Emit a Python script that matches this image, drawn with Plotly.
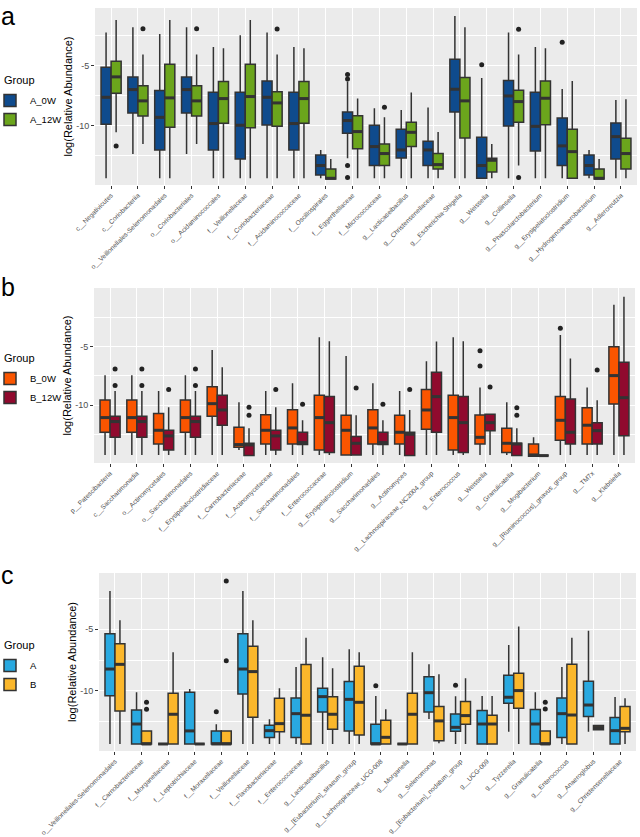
import plotly.graph_objects as go

# ---------------- Panel a ----------------
cats_a = ["c__Negativicutes", "c__Coriobacteriia", "o__Veillonellales-Selenomonadales",
          "o__Coriobacteriales", "o__Acidaminococcales", "f__Veillonellaceae",
          "f__Coriobacteriaceae", "f__Acidaminococcaceae", "f__Oscillospirales",
          "f__Eggerthellaceae", "f__Micrococcaceae", "g__Lacticaseibacillus",
          "g__Christensenellaceae", "g__Escherichia-Shigella", "g__Weissella",
          "g__Collinsella", "g__Phascolarctobacterium", "g__Erysipelatoclostridium",
          "g__Hydrogenoanaerobacterium", "g__Adlercreutzia"]

a0_lo = [-14.39, -12.36, -14.39, -12.36, -14.39, -14.39, -14.39, -14.39, -14.39, -12.72,
         -14.39, -14.39, -14.39, -14.39, -14.39, -14.39, -14.39, -14.39, -14.39, -14.39]
a0_q1 = [-9.89, -8.94, -12.03, -8.94, -12.03, -12.78, -9.94, -12.03, -14.11, -10.64,
         -13.33, -12.69, -13.33, -8.86, -14.39, -10.03, -12.11, -13.33, -14.11, -12.78]
a0_med = [-7.64, -7.0, -9.31, -7.0, -9.83, -9.97, -7.64, -9.83, -13.33, -9.58,
          -11.75, -12.03, -12.03, -6.97, -13.33, -7.53, -10.06, -11.69, -13.33, -10.92]
a0_q3 = [-5.14, -5.94, -7.08, -5.94, -7.22, -7.22, -6.28, -7.22, -12.44, -8.86,
         -9.97, -10.31, -11.31, -4.47, -10.97, -6.25, -7.22, -9.36, -12.44, -9.78]
a0_hi = [-2.25, -1.81, -2.36, -1.81, -3.44, -2.47, -2.25, -3.44, -12.03, -6.33,
         -8.56, -8.69, -8.5, -0.86, -6.03, -2.25, -3.44, -6.94, -12.03, -7.86]
a0_out_cat = [10, 10, 10, 10, 15, 18]
a0_out_val = [-5.75, -6.11, -13.33, -14.33, -4.92, -3.06]

a12_lo = [-10.56, -11.53, -14.39, -11.53, -14.39, -14.39, -14.39, -14.39, -14.44, -14.39,
          -14.39, -14.39, -14.39, -14.39, -14.39, -13.33, -14.39, -14.39, -14.44, -14.39]
a12_q1 = [-7.31, -9.19, -10.14, -9.19, -9.81, -10.17, -10.06, -9.81, -14.44, -11.92,
          -13.33, -11.75, -13.61, -11.03, -13.86, -9.72, -9.92, -14.39, -14.44, -13.61]
a12_med = [-5.94, -7.94, -7.69, -7.94, -7.75, -7.58, -8.11, -7.75, -14.39, -10.5,
           -12.33, -10.56, -13.25, -7.94, -12.89, -8.0, -7.72, -12.17, -14.39, -12.33]
a12_q3 = [-4.64, -6.67, -4.89, -6.67, -6.33, -4.89, -7.17, -6.33, -13.61, -9.17,
          -11.53, -9.72, -12.33, -6.0, -12.72, -7.06, -6.28, -10.31, -13.61, -11.06]
a12_hi = [-1.19, -4.08, -1.19, -4.08, -3.56, -1.19, -4.08, -3.56, -12.78, -7.75,
          -9.31, -7.25, -10.53, -1.81, -11.53, -4.08, -3.56, -6.28, -12.78, -7.81]
a12_out_cat = [1, 2, 4, 7, 11, 16, 16]
a12_out_val = [-11.69, -1.92, -1.92, -1.94, -8.47, -1.97, -14.33]

# ---------------- Panel b ----------------
cats_b = ["p__Patescibacteria", "c__Saccharimonadia", "o__Actinomycetales",
          "o__Saccharimonadales", "f__Erysipelatoclostridiaceae", "f__Carnobacteriaceae",
          "f__Actinomycetaceae", "f__Saccharimonadales", "f__Enterococcaceae",
          "g__Erysipelatoclostridium", "g__Saccharimonadales", "g__Actinomyces",
          "g__Lachnospiraceae_NC2004_group", "g__Enterococcus", "g__Weissella",
          "g__Granulicatella", "g__Mogibacterium", "g__[Ruminococcus]_gnavus_group",
          "g__TM7x", "g__Klebsiella"]

b0_lo = [-14.23, -14.23, -14.23, -14.23, -14.23, -13.81, -14.23, -14.23, -14.23, -14.23,
         -14.23, -14.23, -14.23, -14.23, -14.23, -14.23, -14.35, -14.23, -14.23, -14.23]
b0_q1 = [-12.30, -12.30, -13.30, -12.30, -10.94, -13.58, -13.30, -13.30, -13.81, -14.23,
         -13.30, -13.30, -12.05, -13.81, -13.30, -14.03, -14.35, -12.98, -13.30, -9.89]
b0_med = [-11.05, -11.05, -12.13, -11.05, -9.86, -13.35, -12.13, -11.93, -11.05, -12.13,
          -11.93, -12.30, -10.40, -11.05, -12.73, -13.24, -14.23, -11.28, -11.70, -7.47]
b0_q3 = [-9.55, -9.55, -10.71, -9.55, -8.41, -11.88, -10.80, -10.37, -9.15, -10.85,
         -10.37, -10.85, -8.66, -9.15, -10.82, -11.96, -13.30, -9.26, -10.20, -5.0]
b0_hi = [-7.44, -7.44, -8.78, -7.44, -5.28, -9.74, -8.78, -8.13, -4.20, -5.80,
         -8.13, -8.78, -6.25, -4.20, -8.49, -9.74, -12.73, -4.0, -8.49, -1.42]
b0_out_cat = [15, 15, 18]
b0_out_val = [-5.34, -6.65, -3.44]

b12_lo = [-14.23, -14.23, -14.23, -14.23, -14.23, -14.29, -14.23, -14.23, -14.23, -14.23,
          -14.23, -14.29, -14.23, -14.23, -14.23, -14.29, -14.29, -14.23, -14.23, -14.23]
b12_q1 = [-12.73, -12.73, -13.81, -12.73, -11.70, -14.29, -13.81, -13.35, -14.03, -14.23,
          -13.35, -14.29, -12.30, -14.03, -12.16, -14.29, -14.29, -13.30, -13.30, -12.59]
b12_med = [-11.39, -11.39, -12.61, -11.39, -10.40, -13.38, -12.61, -13.18, -11.48, -13.24,
           -13.18, -12.47, -9.26, -11.48, -11.48, -13.30, -14.29, -12.30, -12.16, -9.35]
b12_q3 = [-10.94, -10.94, -12.13, -10.94, -9.15, -13.24, -12.13, -12.30, -9.26, -12.67,
          -12.30, -12.30, -7.19, -9.26, -10.77, -13.24, -14.29, -9.46, -11.48, -6.34]
b12_hi = [-8.78, -8.78, -10.17, -8.78, -6.76, -11.96, -10.17, -11.28, -4.55, -10.85,
          -11.28, -10.40, -4.57, -4.55, -10.77, -11.96, -14.29, -6.02, -9.57, -0.74]
b12_out_cat = [1, 1, 2, 2, 3, 4, 4, 6, 6, 7, 8, 10, 11, 12, 15, 16, 16, 19]
b12_out_val = [-6.9, -8.32, -6.9, -8.32, -8.66, -6.9, -8.32, -10.17, -10.85, -8.66,
               -9.91, -8.52, -9.91, -8.66, -8.44, -10.20, -10.85, -6.99]

# ---------------- Panel c ----------------
cats_c = ["o__Veillonellales-Selenomonadales", "f__Carnobacteriaceae", "f__Morganellaceae",
          "f__Leptotrichiaceae", "f__Moraxellaceae", "f__Veillonellaceae",
          "f__Flavobacteriaceae", "f__Enterococcaceae", "g__Lacticaseibacillus",
          "g__[Eubacterium]_siraeum_group", "g__Lachnospiraceae_UCG-008", "g__Morganella",
          "g__Selenomonas", "g__[Eubacterium]_nodatum_group", "g__UCG-009",
          "g__Tyzzerella", "g__Granulicatella", "g__Enterococcus", "g__Anaeroglobus",
          "g__Christensenellaceae"]

cA_lo = [-14.30, -14.30, -14.30, -14.30, -14.30, -14.30, -14.30, -14.30, -14.30, -14.30,
         -14.30, -14.30, -12.27, -14.30, -14.30, -13.30, -14.30, -14.30, -13.30, -14.30]
cA_q1 = [-10.38, -14.30, -14.30, -14.30, -14.30, -10.24, -13.78, -13.78, -11.70, -13.24,
         -14.30, -14.30, -11.70, -13.27, -14.30, -11.0, -14.30, -13.78, -12.08, -14.30]
cA_med = [-8.22, -12.68, -14.30, -13.24, -14.30, -8.22, -13.22, -11.84, -10.46, -10.68,
          -14.30, -14.30, -10.14, -12.95, -12.68, -10.51, -12.68, -11.84, -11.14, -13.22]
cA_q3 = [-5.35, -11.54, -14.30, -10.11, -13.24, -5.35, -12.78, -10.57, -9.78, -9.24,
         -12.70, -14.30, -8.84, -11.86, -11.59, -8.73, -11.51, -10.57, -9.22, -12.16]
cA_hi = [-1.89, -10.11, -14.30, -9.84, -12.70, -1.89, -12.30, -8.05, -7.27, -6.62,
         -10.41, -14.30, -7.84, -10.43, -10.41, -6.27, -10.11, -8.05, -5.11, -10.49]
cA_out_cat = [5, 11, 14]
cA_out_val = [-11.68, -9.57, -9.54]

cB_lo = [-14.30, -14.30, -14.30, -14.30, -14.30, -14.30, -14.30, -14.30, -14.30, -14.30,
         -14.30, -14.30, -14.24, -14.30, -14.30, -14.30, -14.30, -14.30, -13.14, -14.30]
cB_q1 = [-11.62, -14.30, -14.30, -14.30, -14.30, -12.14, -13.30, -14.30, -13.11, -13.57,
         -14.30, -14.30, -14.03, -12.70, -14.30, -11.41, -14.30, -14.30, -13.14, -13.30]
cB_med = [-7.84, -14.30, -11.89, -14.30, -14.30, -8.43, -12.65, -11.97, -11.89, -10.92,
          -13.76, -11.89, -12.43, -12.0, -12.68, -9.97, -14.30, -11.95, -12.97, -13.03]
cB_q3 = [-6.16, -13.24, -10.19, -14.30, -13.24, -6.38, -10.59, -7.86, -10.46, -8.0,
         -12.38, -10.19, -11.27, -10.86, -11.97, -8.57, -13.24, -7.84, -12.81, -11.27]
cB_hi = [-4.27, -13.24, -6.86, -14.30, -13.24, -4.27, -9.78, -5.68, -8.16, -6.86,
         -11.49, -6.86, -8.65, -8.97, -10.41, -4.76, -13.24, -5.68, -12.81, -10.59]
cB_out_cat = [2, 2, 5, 5, 17, 17]
cB_out_val = [-10.92, -11.49, -1.08, -7.54, -10.92, -11.46]

# ---------------- styling ----------------
W, H = 640, 837
FONT = "Liberation Sans, Arial, sans-serif"
OUTLINE = "#333333"
DODGE = 0.1875
BOXW = 0.375

panels = [
    dict(cats=cats_a, xa="x", ya="y", legend="legend", yrange=[-14.95, -0.2],
         xdom=[95, 637], ydom=[8, 185], label="a", label_y=0,
         title_y=80, leg_y=86,
         groups=[("A_0W", "#0F4B8D", -DODGE, a0_lo, a0_q1, a0_med, a0_q3, a0_hi, a0_out_cat, a0_out_val),
                 ("A_12W", "#6BA51C", DODGE, a12_lo, a12_q1, a12_med, a12_q3, a12_hi, a12_out_cat, a12_out_val)]),
    dict(cats=cats_b, xa="x2", ya="y2", legend="legend2", yrange=[-14.92, 0.0],
         xdom=[94, 635], ydom=[288, 463], label="b", label_y=271,
         title_y=358, leg_y=364,
         groups=[("B_0W", "#FA5500", -DODGE, b0_lo, b0_q1, b0_med, b0_q3, b0_hi, b0_out_cat, b0_out_val),
                 ("B_12W", "#900A2E", DODGE, b12_lo, b12_q1, b12_med, b12_q3, b12_hi, b12_out_cat, b12_out_val)]),
    dict(cats=cats_c, xa="x3", ya="y3", legend="legend3", yrange=[-14.87, -0.43],
         xdom=[99, 636], ydom=[573, 751], label="c", label_y=559,
         title_y=645, leg_y=651,
         groups=[("A", "#29A9E0", -DODGE, cA_lo, cA_q1, cA_med, cA_q3, cA_hi, cA_out_cat, cA_out_val),
                 ("B", "#FBB72B", DODGE, cB_lo, cB_q1, cB_med, cB_q3, cB_hi, cB_out_cat, cB_out_val)]),
]

fig = go.Figure()
layout = dict(template="none", width=W, height=H, margin=dict(l=0, r=0, t=0, b=0, autoexpand=False),
              paper_bgcolor="white", plot_bgcolor="#EBEBEB", boxmode="overlay",
              showlegend=True, font=dict(family=FONT), annotations=[])

for p in panels:
    n = len(p["cats"])
    pos = list(range(1, n + 1))
    for (name, color, off, lo, q1, med, q3, hi, oc, ov) in p["groups"]:
        xs = [i + off for i in pos]
        fig.add_trace(go.Box(
            x=xs, lowerfence=lo, q1=q1, median=med, q3=q3, upperfence=hi,
            name=name, width=BOXW, fillcolor=color,
            line=dict(color=OUTLINE, width=1.5), whiskerwidth=0,
            boxpoints=False, xaxis=p["xa"], yaxis=p["ya"], legend=p["legend"],
            hoverinfo="skip"))
    for (name, color, off, lo, q1, med, q3, hi, oc, ov) in p["groups"]:
        mx, my = [], []
        for i, m in zip(pos, med):
            mx += [i + off - BOXW / 2, i + off + BOXW / 2, None]
            my += [m, m, None]
        fig.add_trace(go.Scatter(x=mx, y=my, mode="lines",
                                 line=dict(color=OUTLINE, width=3),
                                 showlegend=False, hoverinfo="skip",
                                 xaxis=p["xa"], yaxis=p["ya"]))
        fig.add_trace(go.Scatter(x=[c + off for c in oc], y=ov, mode="markers",
                                 marker=dict(color="#222222", size=5, line=dict(width=0)),
                                 showlegend=False, hoverinfo="skip",
                                 xaxis=p["xa"], yaxis=p["ya"]))

    xkey = "xaxis" + p["xa"][1:]
    ykey = "yaxis" + p["ya"][1:]
    layout[xkey] = dict(
        domain=[p["xdom"][0] / W, p["xdom"][1] / W], anchor=p["ya"], automargin=False,
        range=[0.4, n + 0.6], tickmode="array", tickvals=pos, ticktext=p["cats"],
        tickangle=-45, tickfont=dict(size=6.6, color="#4D4D4D", family=FONT),
        ticks="outside", ticklen=3, tickcolor="#333333", tickwidth=1,
        showgrid=True, gridcolor="white", gridwidth=1.2, zeroline=False,
        showline=False, fixedrange=True)
    layout[ykey] = dict(
        domain=[1 - p["ydom"][1] / H, 1 - p["ydom"][0] / H], anchor=p["xa"], automargin=False,
        range=p["yrange"], tickmode="array", tickvals=[-10, -5], ticktext=["-10", "-5"],
        ticks="outside", ticklen=3, tickcolor="#333333", tickwidth=1,
        tickfont=dict(size=9, color="#4D4D4D", family=FONT),
        showgrid=True, gridcolor="white", gridwidth=1.2, zeroline=False, showline=False,
        minor=dict(tickmode="array", tickvals=[-12.5, -7.5, -2.5], showgrid=True,
                   gridcolor="white", gridwidth=0.6, ticks=""),
        title=dict(text="log(Relative Abundance)", font=dict(size=11, color="black", family=FONT),
                   standoff=1),
        fixedrange=True)
    layout[p["legend"]] = dict(
        x=-10 / W, y=1 - p["leg_y"] / H, xanchor="left", yanchor="top",
        font=dict(size=9.5, color="black", family=FONT), bgcolor="rgba(0,0,0,0)",
        tracegroupgap=0)
    layout["annotations"].append(dict(
        text="Group", x=2 / W, y=1 - p["title_y"] / H, xref="paper", yref="paper",
        xanchor="left", yanchor="middle", showarrow=False,
        font=dict(size=11, color="black", family=FONT)))
    layout["annotations"].append(dict(
        text=p["label"], x=-1 / W, y=1 - p["label_y"] / H, xref="paper", yref="paper",
        xanchor="left", yanchor="top", showarrow=False,
        font=dict(size=25, color="black", family=FONT)))

fig.update_layout(**layout)
fig.write_html("out.html")
